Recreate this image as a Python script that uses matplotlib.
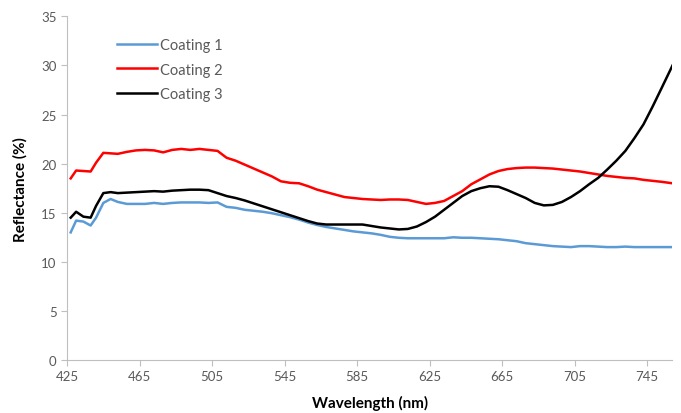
import matplotlib
matplotlib.use("Agg")
import matplotlib.pyplot as plt

wavelength = [427, 430, 434, 438, 441, 445, 449, 453, 458, 463, 468, 473, 478, 483,
              488, 493, 498, 503, 508, 513, 518, 523, 528, 533, 538, 543, 548, 553,
              558, 563, 568, 573, 578, 583, 588, 593, 598, 603, 608, 613, 618, 623,
              628, 633, 638, 643, 648, 653, 658, 663, 668, 673, 678, 683, 688, 693,
              698, 703, 708, 713, 718, 723, 728, 733, 738, 743, 748, 753, 759]

coating_1 = [13.0, 14.2, 14.1, 13.7, 14.5, 16.0, 16.4, 16.1, 15.9, 15.9, 15.9, 16.0, 15.9, 16.0,
             16.05, 16.05, 16.05, 16.0, 16.05, 15.6, 15.5, 15.3, 15.2, 15.1, 14.95, 14.75, 14.55, 14.3,
             14.0, 13.75, 13.55, 13.4, 13.25, 13.1, 13.0, 12.9, 12.75, 12.55, 12.45, 12.4, 12.4, 12.4,
             12.4, 12.4, 12.5, 12.45, 12.45, 12.4, 12.35, 12.3, 12.2, 12.1, 11.9, 11.8, 11.7, 11.6,
             11.55, 11.5, 11.6, 11.6, 11.55, 11.5, 11.5, 11.55, 11.5, 11.5, 11.5, 11.5, 11.5]

coating_2 = [18.5, 19.3, 19.25, 19.2, 20.1, 21.1, 21.05, 21.0, 21.2, 21.35, 21.4, 21.35, 21.15, 21.4,
             21.5, 21.4, 21.5, 21.4, 21.3, 20.6, 20.3, 19.9, 19.5, 19.1, 18.7, 18.2, 18.05, 18.0,
             17.7, 17.35, 17.1, 16.85, 16.6, 16.5, 16.4, 16.35, 16.3, 16.35, 16.35, 16.3, 16.1, 15.9,
             16.0, 16.2, 16.7, 17.2, 17.9, 18.4, 18.9, 19.25, 19.45, 19.55, 19.6, 19.6, 19.55, 19.5,
             19.4, 19.3, 19.2, 19.05, 18.9, 18.75, 18.65, 18.55, 18.5, 18.35, 18.25, 18.15, 18.0]

coating_3 = [14.5, 15.1, 14.6, 14.5, 15.7, 17.0, 17.1, 17.0, 17.05, 17.1, 17.15, 17.2, 17.15, 17.25,
             17.3, 17.35, 17.35, 17.3, 17.0, 16.7, 16.5, 16.25, 15.95, 15.65, 15.35, 15.05, 14.75, 14.45,
             14.15, 13.9, 13.8, 13.8, 13.8, 13.8, 13.8, 13.65, 13.5, 13.4, 13.3, 13.35, 13.6, 14.05,
             14.6, 15.3, 16.0, 16.7, 17.2, 17.5, 17.7, 17.65, 17.3, 16.9, 16.5, 16.0, 15.75, 15.8,
             16.1, 16.6, 17.2, 17.9, 18.55, 19.4, 20.3, 21.3, 22.6, 24.0, 25.8, 27.7, 30.0]

series = [
    ("Coating 1", coating_1, "#5b9bd5"),
    ("Coating 2", coating_2, "#ff0000"),
    ("Coating 3", coating_3, "#000000"),
]

x_ticks = [425, 465, 505, 545, 585, 625, 665, 705, 745]

plt.rcParams["font.family"] = ["Lato", "DejaVu Sans"]

fig = plt.figure(figsize=(6.81, 4.14), dpi=100)
ax = fig.add_axes([0.0985, 0.128, 0.889, 0.83])

for name, values, color in series:
    ax.plot(wavelength, values, color=color, linewidth=1.8, label=name)

ax.set_xlim(425, 759)
ax.set_ylim(0, 35)
ax.set_xticks(x_ticks)
ax.set_yticks(range(0, 36, 5))

for side in ("top", "right"):
    ax.spines[side].set_visible(False)
for side in ("left", "bottom"):
    ax.spines[side].set_color("#bfbfbf")
ax.tick_params(colors="#595959", labelsize=9.5, length=4, direction="out")
ax.tick_params(axis="both", color="#bfbfbf")

ax.set_xlabel("Wavelength (nm)", fontsize=11, fontweight="bold", labelpad=9)
ax.set_ylabel("Reflectance (%)", fontsize=11, fontweight="bold", labelpad=10)

leg = ax.legend(loc="upper left", bbox_to_anchor=(0.06, 0.975), frameon=False,
                fontsize=10.5, handlelength=2.8, handletextpad=0.2, labelspacing=0.72)
for text in leg.get_texts():
    text.set_color("#595959")

fig.savefig("out.png", dpi=100)
